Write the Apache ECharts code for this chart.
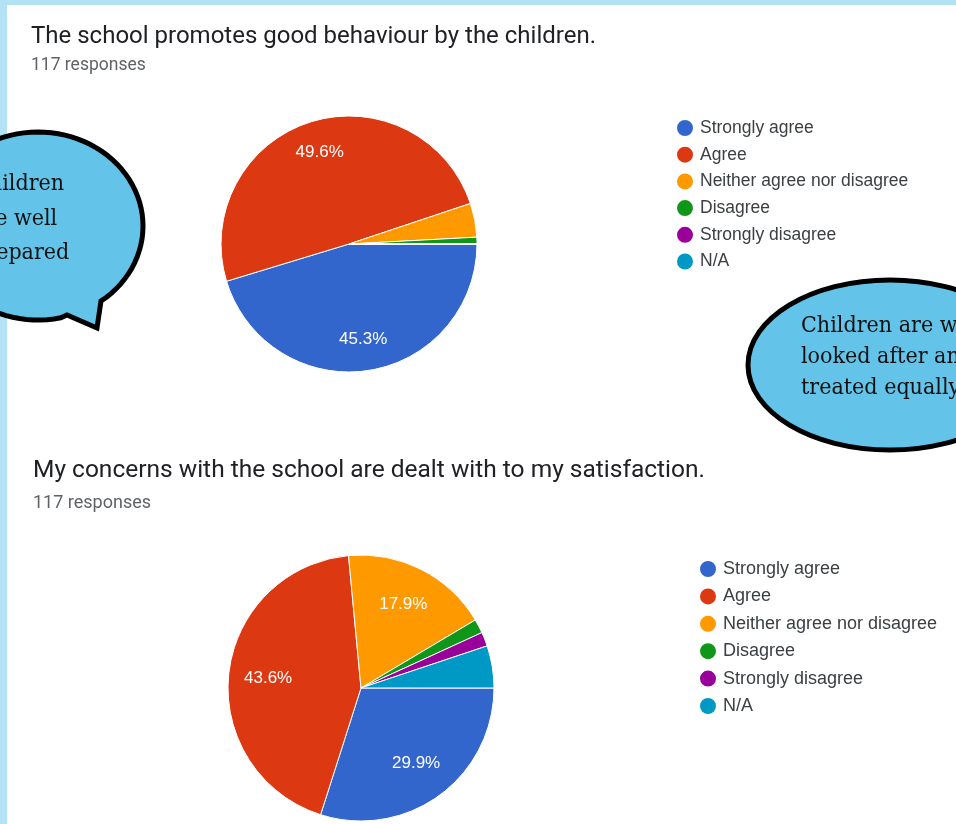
<!DOCTYPE html>
<html>
<head>
<meta charset="utf-8">
<script src="https://cdn.jsdelivr.net/npm/echarts@6/dist/echarts.min.js"></script>
<style>
  html, body { margin: 0; padding: 0; background: #fff; }
  #chart { width: 956px; height: 824px; }
</style>
</head>
<body>
<div id="chart"></div>
<script>
// answer options, same for both questions
const answers = ['Strongly agree', 'Agree', 'Neither agree nor disagree', 'Disagree', 'Strongly disagree', 'N/A'];
const answerColors = ['#3366cc', '#dc3912', '#ff9900', '#109618', '#990099', '#0099c6'];

// question 1: 117 responses
const behaviourTitle = 'The school promotes good behaviour by the children.';
const behaviourCounts = [53, 58, 5, 1, 0, 0];

// question 2: 117 responses
const concernsTitle = 'My concerns with the school are dealt with to my satisfaction.';
const concernsCounts = [35, 51, 21, 2, 2, 6];

const responsesText = '117 responses';

// speech bubbles
const leftBubbleText = 'Children\nare well\nprepared';
const rightBubbleText = 'Children are well\nlooked after and\ntreated equally';

const chart = echarts.init(document.getElementById('chart'), null, { renderer: 'canvas' });

function toData(counts) {
  return answers.map((name, i) => ({ name: name, value: counts[i] }));
}

// google style: only label the bigger slices
function pctLabel(p) {
  const total = p.data.total;
  const pct = p.value / total * 100;
  return pct < 8 ? '' : pct.toFixed(1) + '%';
}

function pieSeries(counts, center, r, labelRatio) {
  const total = counts.reduce((a, b) => a + b, 0);
  const data = toData(counts);
  return [{
    type: 'pie',
    center: center,
    radius: r,
    startAngle: 0,
    clockwise: true,
    color: answerColors,
    label: { show: false },
    labelLine: { show: false },
    itemStyle: { borderColor: '#fff', borderWidth: 1 },
    emphasis: { disabled: true },
    data: data
  }, {
    // transparent copy, only there to push the labels further out
    type: 'pie',
    center: center,
    radius: r * labelRatio * 2,
    startAngle: 0,
    clockwise: true,
    silent: true,
    z: 3,
    itemStyle: { color: 'rgba(0,0,0,0)', borderWidth: 0 },
    label: {
      show: true,
      position: 'inside',
      color: '#fff',
      fontSize: 17,
      fontFamily: 'Liberation Sans, Arial, sans-serif',
      formatter: pctLabel
    },
    labelLine: { show: false },
    emphasis: { disabled: true },
    data: data.map(d => ({ name: d.name, value: d.value, total: total }))
  }];
}

function legendAt(left, top, gap, size) {
  return {
    orient: 'vertical',
    left: left,
    top: top,
    padding: 0,
    icon: 'circle',
    itemWidth: 18,
    itemHeight: 18,
    itemGap: gap,
    selectedMode: false,
    data: answers,
    textStyle: {
      fontFamily: 'Liberation Sans, Arial, sans-serif',
      fontSize: size,
      color: '#3c4043',
      padding: [0, 0, 0, 1]
    }
  };
}

// outline of an oval callout: ellipse arc plus a little tail
function bubbleOutline(cx, cy, rx, ry, tailStart, tip, tailEnd) {
  const a0 = Math.atan2((tailEnd[1] - cy) / ry, (tailEnd[0] - cx) / rx);
  let a1 = Math.atan2((tailStart[1] - cy) / ry, (tailStart[0] - cx) / rx);
  while (a1 < a0) a1 += Math.PI * 2;
  const pts = [tip, tailEnd];
  const n = 90;
  for (let i = 1; i < n; i++) {
    const a = a0 + (a1 - a0) * i / n;
    pts.push([cx + rx * Math.cos(a), cy + ry * Math.sin(a)]);
  }
  pts.push(tailStart);
  return pts;
}

const titleFont = 'Roboto, Liberation Sans, sans-serif';
const bubbleFont = '23px DejaVu Serif Condensed, DejaVu Serif, serif';
const bubbleFill = '#63c3e8';

const option = {
  backgroundColor: '#fff',
  animation: false,
  legend: [
    legendAt(675, 118, 6.7, 17.5),
    legendAt(698, 559, 7.4, 18)
  ],
  series: [].concat(
    pieSeries(behaviourCounts, [349, 244], 128, 0.73),
    pieSeries(concernsCounts, [361, 688], 133, 0.68)
  ),
  graphic: [
    // light blue frame
    { type: 'rect', shape: { x: 0, y: 0, width: 956, height: 5 }, style: { fill: '#b3e2f5' }, z: 1 },
    { type: 'rect', shape: { x: 0, y: 0, width: 7, height: 824 }, style: { fill: '#b3e2f5' }, z: 1 },

    { type: 'text', z: 5, style: { text: behaviourTitle, x: 31, y: 37, verticalAlign: 'middle', font: '24px ' + titleFont, fill: '#202124' } },
    { type: 'text', z: 5, style: { text: responsesText, x: 31, y: 66, verticalAlign: 'middle', font: '17.5px ' + titleFont, fill: '#5f6368' } },
    { type: 'text', z: 5, style: { text: concernsTitle, x: 33, y: 471, verticalAlign: 'middle', font: '24.5px ' + titleFont, fill: '#202124' } },
    { type: 'text', z: 5, style: { text: responsesText, x: 33, y: 503, verticalAlign: 'middle', font: '18px ' + titleFont, fill: '#5f6368' } },

    // left speech bubble with tail
    {
      type: 'polygon', z: 10,
      shape: { points: bubbleOutline(38, 226, 105, 94, [101, 301], [97, 328], [67, 315]) },
      style: { fill: bubbleFill, stroke: '#000', lineWidth: 5, lineJoin: 'miter' }
    },
    { type: 'text', z: 11, style: { text: leftBubbleText, x: -27, y: 219, verticalAlign: 'middle', lineHeight: 34.5, font: bubbleFont, fill: '#111' } },

    // right oval bubble
    {
      type: 'ellipse', z: 10,
      shape: { cx: 890, cy: 365, rx: 142, ry: 85 },
      style: { fill: bubbleFill, stroke: '#000', lineWidth: 5 }
    },
    { type: 'text', z: 11, style: { text: rightBubbleText, x: 801, y: 357, verticalAlign: 'middle', lineHeight: 31, font: bubbleFont, fill: '#111' } }
  ]
};

chart.setOption(option);
</script>
</body>
</html>
